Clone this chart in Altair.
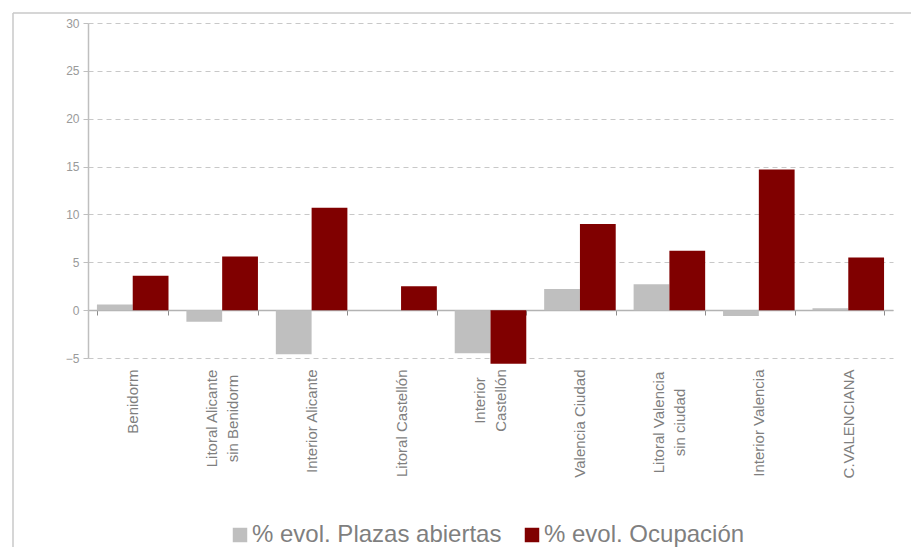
import altair as alt
import pandas as pd

categories = [
    "Benidorm",
    "Litoral Alicante\nsin Benidorm",
    "Interior Alicante",
    "Litoral Castellón",
    "Interior\nCastellón",
    "Valencia Ciudad",
    "Litoral Valencia\nsin ciudad",
    "Interior Valencia",
    "C.VALENCIANA",
]
series = ["% evol. Plazas abiertas", "% evol. Ocupación"]
plazas = [0.6, -1.2, -4.6, 0.0, -4.5, 2.2, 2.7, -0.6, 0.2]
ocupacion = [3.6, 5.6, 10.7, 2.5, -5.6, 9.0, 6.2, 14.7, 5.5]
y_ticks = [-5, 0, 5, 10, 15, 20, 25, 30]
colors = ["#bfbfbf", "#800000"]

rows = []
for c, p, o in zip(categories, plazas, ocupacion):
    rows.append({"cat": c, "serie": series[0], "val": p})
    rows.append({"cat": c, "serie": series[1], "val": o})
df = pd.DataFrame(rows)

FONT = "Liberation Sans"
BASE_PAD = 54
# half of the longest line (px) for the centred two-line labels
two_line_pad = {
    "Litoral Alicante\\nsin Benidorm": 49,
    "Interior\\nCastellón": 31,
    "Litoral Valencia\\nsin ciudad": 53,
}
multi_test = "isValid(datum.value) && indexof(datum.value, '\\n') >= 0"

bars = alt.Chart(df).mark_bar().encode(
    x=alt.X(
        "cat:N",
        sort=categories,
        scale=alt.Scale(paddingInner=0.2, paddingOuter=0.1),
        axis=alt.Axis(
            title=None,
            orient="bottom",
            offset=-48,
            domain=True,
            domainColor="#b3b3b3",
            domainWidth=1.5,
            ticks=True,
            tickBand="extent",
            tickSize=5,
            tickColor="#8c8c8c",
            grid=False,
            labelAngle=-90,
            labelAlign={
                "condition": {"test": multi_test, "value": "center"},
                "value": "right",
            },
            labelBaseline="middle",
            labelPadding={
                "condition": [
                    {"test": f"datum.value === '{k}'", "value": BASE_PAD + v}
                    for k, v in two_line_pad.items()
                ],
                "value": BASE_PAD,
            },
            labelFont=FONT,
            labelFontSize=15,
            labelColor="#7f7f7f",
            labelLineHeight=21,
            labelLimit=0,
            labelOffset={
                "condition": {"test": multi_test, "value": -11},
                "value": 0,
            },
            labelExpr="isValid(datum.value) ? split(datum.value, '\\n') : ''",
        ),
    ),
    xOffset=alt.XOffset(
        "serie:N", sort=series, scale=alt.Scale(paddingInner=0, paddingOuter=0)
    ),
    y=alt.Y(
        "val:Q",
        scale=alt.Scale(domain=[-5, 30], nice=False, zero=False),
        axis=alt.Axis(
            title=None,
            values=y_ticks,
            domain=True,
            domainColor="#bfbfbf",
            domainWidth=1.5,
            ticks=True,
            tickSize=5,
            tickColor="#bfbfbf",
            grid=True,
            gridColor="#c8c8c8",
            gridDash=[5, 4],
            labelFont=FONT,
            labelFontSize=12,
            labelColor="#9a9a9a",
            labelPadding=4,
        ),
    ),
    color=alt.Color(
        "serie:N",
        sort=series,
        scale=alt.Scale(domain=series, range=colors),
        legend=alt.Legend(
            title=None,
            orient="none",
            legendX=140,
            legendY=500,
            direction="horizontal",
            symbolType="square",
            symbolSize=210,
            symbolStrokeWidth=0,
            labelFont=FONT,
            labelFontSize=24,
            labelColor="#7f7f7f",
            labelOffset=0,
            columnPadding=18,
            labelLimit=0,
        ),
    ),
)

frame_df = pd.DataFrame({"k": [0]})
frame_top = alt.Chart(frame_df).mark_rule(color="#c8c8c8", strokeWidth=1.5).encode(
    x=alt.value(-75), x2=alt.value(830), y=alt.value(-10)
)
frame_left = alt.Chart(frame_df).mark_rule(color="#c8c8c8", strokeWidth=1.5).encode(
    x=alt.value(-75), y=alt.value(-10), y2=alt.value(540)
)

chart = (
    alt.layer(frame_top, frame_left, bars)
    .properties(
        width=805,
        height=335,
        autosize=alt.AutoSizeParams(type="none"),
        padding={"left": 80, "top": 15, "right": 18, "bottom": 189},
    )
    .configure_view(stroke=None)
)

chart.save("out.html", embed_options={"renderer": "svg", "actions": False})
